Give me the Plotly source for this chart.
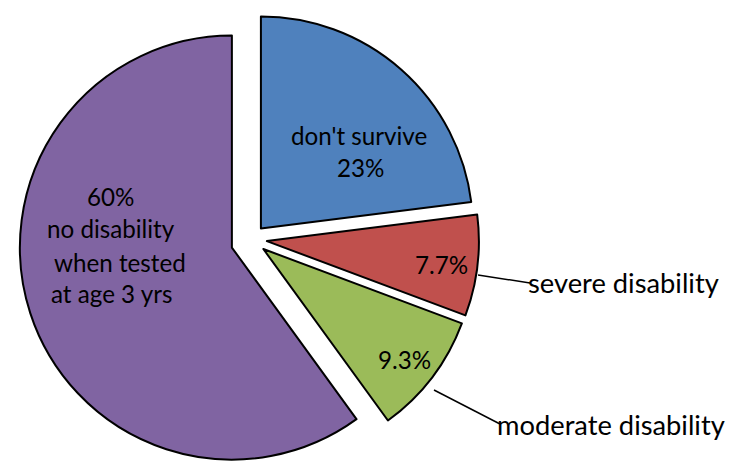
import math
import plotly.graph_objects as go

# ---- data ----
categories = ["don't survive", "severe disability", "moderate disability",
              "no disability when tested at age 3 yrs"]
values = [23, 7.7, 9.3, 60]
colors = ["#4F81BD", "#C0504D", "#9BBB59", "#8064A2"]
pct_labels = [f"{v:g}%" for v in values]

blue_lines = ["don't survive", pct_labels[0]]
purple_lines = [pct_labels[3], "no disability", "when tested", "at age 3 yrs"]
outside_labels = ["severe disability", "moderate disability"]

# ---- layout constants (px) ----
W, H = 731, 461
R = 212                     # pie radius
PULL = 18                   # explode distance
NUDGE_Y = [0, -3, 0, 0]     # small vertical nudges of exploded slices
CX, CY = 249, 242
FONT = "Lato"
IN_SIZE = 24.2
OUT_SIZE = 27.3

total = sum(values)
fig = go.Figure()
start = 0.0
for name, v, c, ny in zip(categories, values, colors, NUDGE_Y):
    mid = math.radians((start + v / 2) / total * 360)
    cx = CX + PULL * math.sin(mid)
    cy = CY - PULL * math.cos(mid) + ny
    cy = min(cy, H - R)
    x0 = max(0, (cx - R) / W); x1 = min(1, (cx + R) / W)
    y0 = max(0, 1 - (cy + R) / H); y1 = min(1, 1 - (cy - R) / H)
    fig.add_trace(go.Pie(
        values=[v, total - v], labels=[name, "rest of " + name],
        rotation=start / total * 360, direction="clockwise", sort=False,
        marker=dict(colors=[c, "rgba(0,0,0,0)"],
                    line=dict(color=["#000000", "rgba(0,0,0,0)"], width=[2, 0])),
        textinfo="none", hoverinfo="skip", showlegend=False,
        domain=dict(x=[x0, x1], y=[y0, y1])))
    start += v


def txt(text, x, baseline, size, xanchor="center"):
    fig.add_annotation(text=text, x=x / W, y=1 - (baseline - 0.39 * size) / H,
                       xref="paper", yref="paper", xanchor=xanchor, yanchor="middle",
                       showarrow=False, font=dict(family=FONT, size=size, color="#000"))


# blue
txt(blue_lines[0], 359, 145, IN_SIZE)
txt(blue_lines[1], 360, 177, IN_SIZE)
# purple
for line, xc, bl in zip(purple_lines, [110, 111, 119.5, 111], [206, 238, 272, 303]):
    txt(line, xc, bl, IN_SIZE)
# red / green percentages
txt(pct_labels[1], 441, 274, IN_SIZE)
txt(pct_labels[2], 404, 369, IN_SIZE)
# outside labels
txt(outside_labels[0], 526, 293, OUT_SIZE, xanchor="left")
txt(outside_labels[1], 495, 435, OUT_SIZE, xanchor="left")

# leader lines
for (xa, ya, xb, yb) in [(478, 275, 530, 283), (434, 390, 500, 424)]:
    fig.add_shape(type="line", xref="paper", yref="paper",
                  x0=xa / W, y0=1 - ya / H, x1=xb / W, y1=1 - yb / H,
                  line=dict(color="#000", width=1.5))

fig.update_layout(width=W, height=H, margin=dict(l=0, r=0, t=0, b=0),
                  paper_bgcolor="white", plot_bgcolor="white", showlegend=False)
fig.write_html("out.html", config={"displayModeBar": False},
               post_script="document.body.style.margin='0';"
                           "document.body.style.overflow='hidden';")
